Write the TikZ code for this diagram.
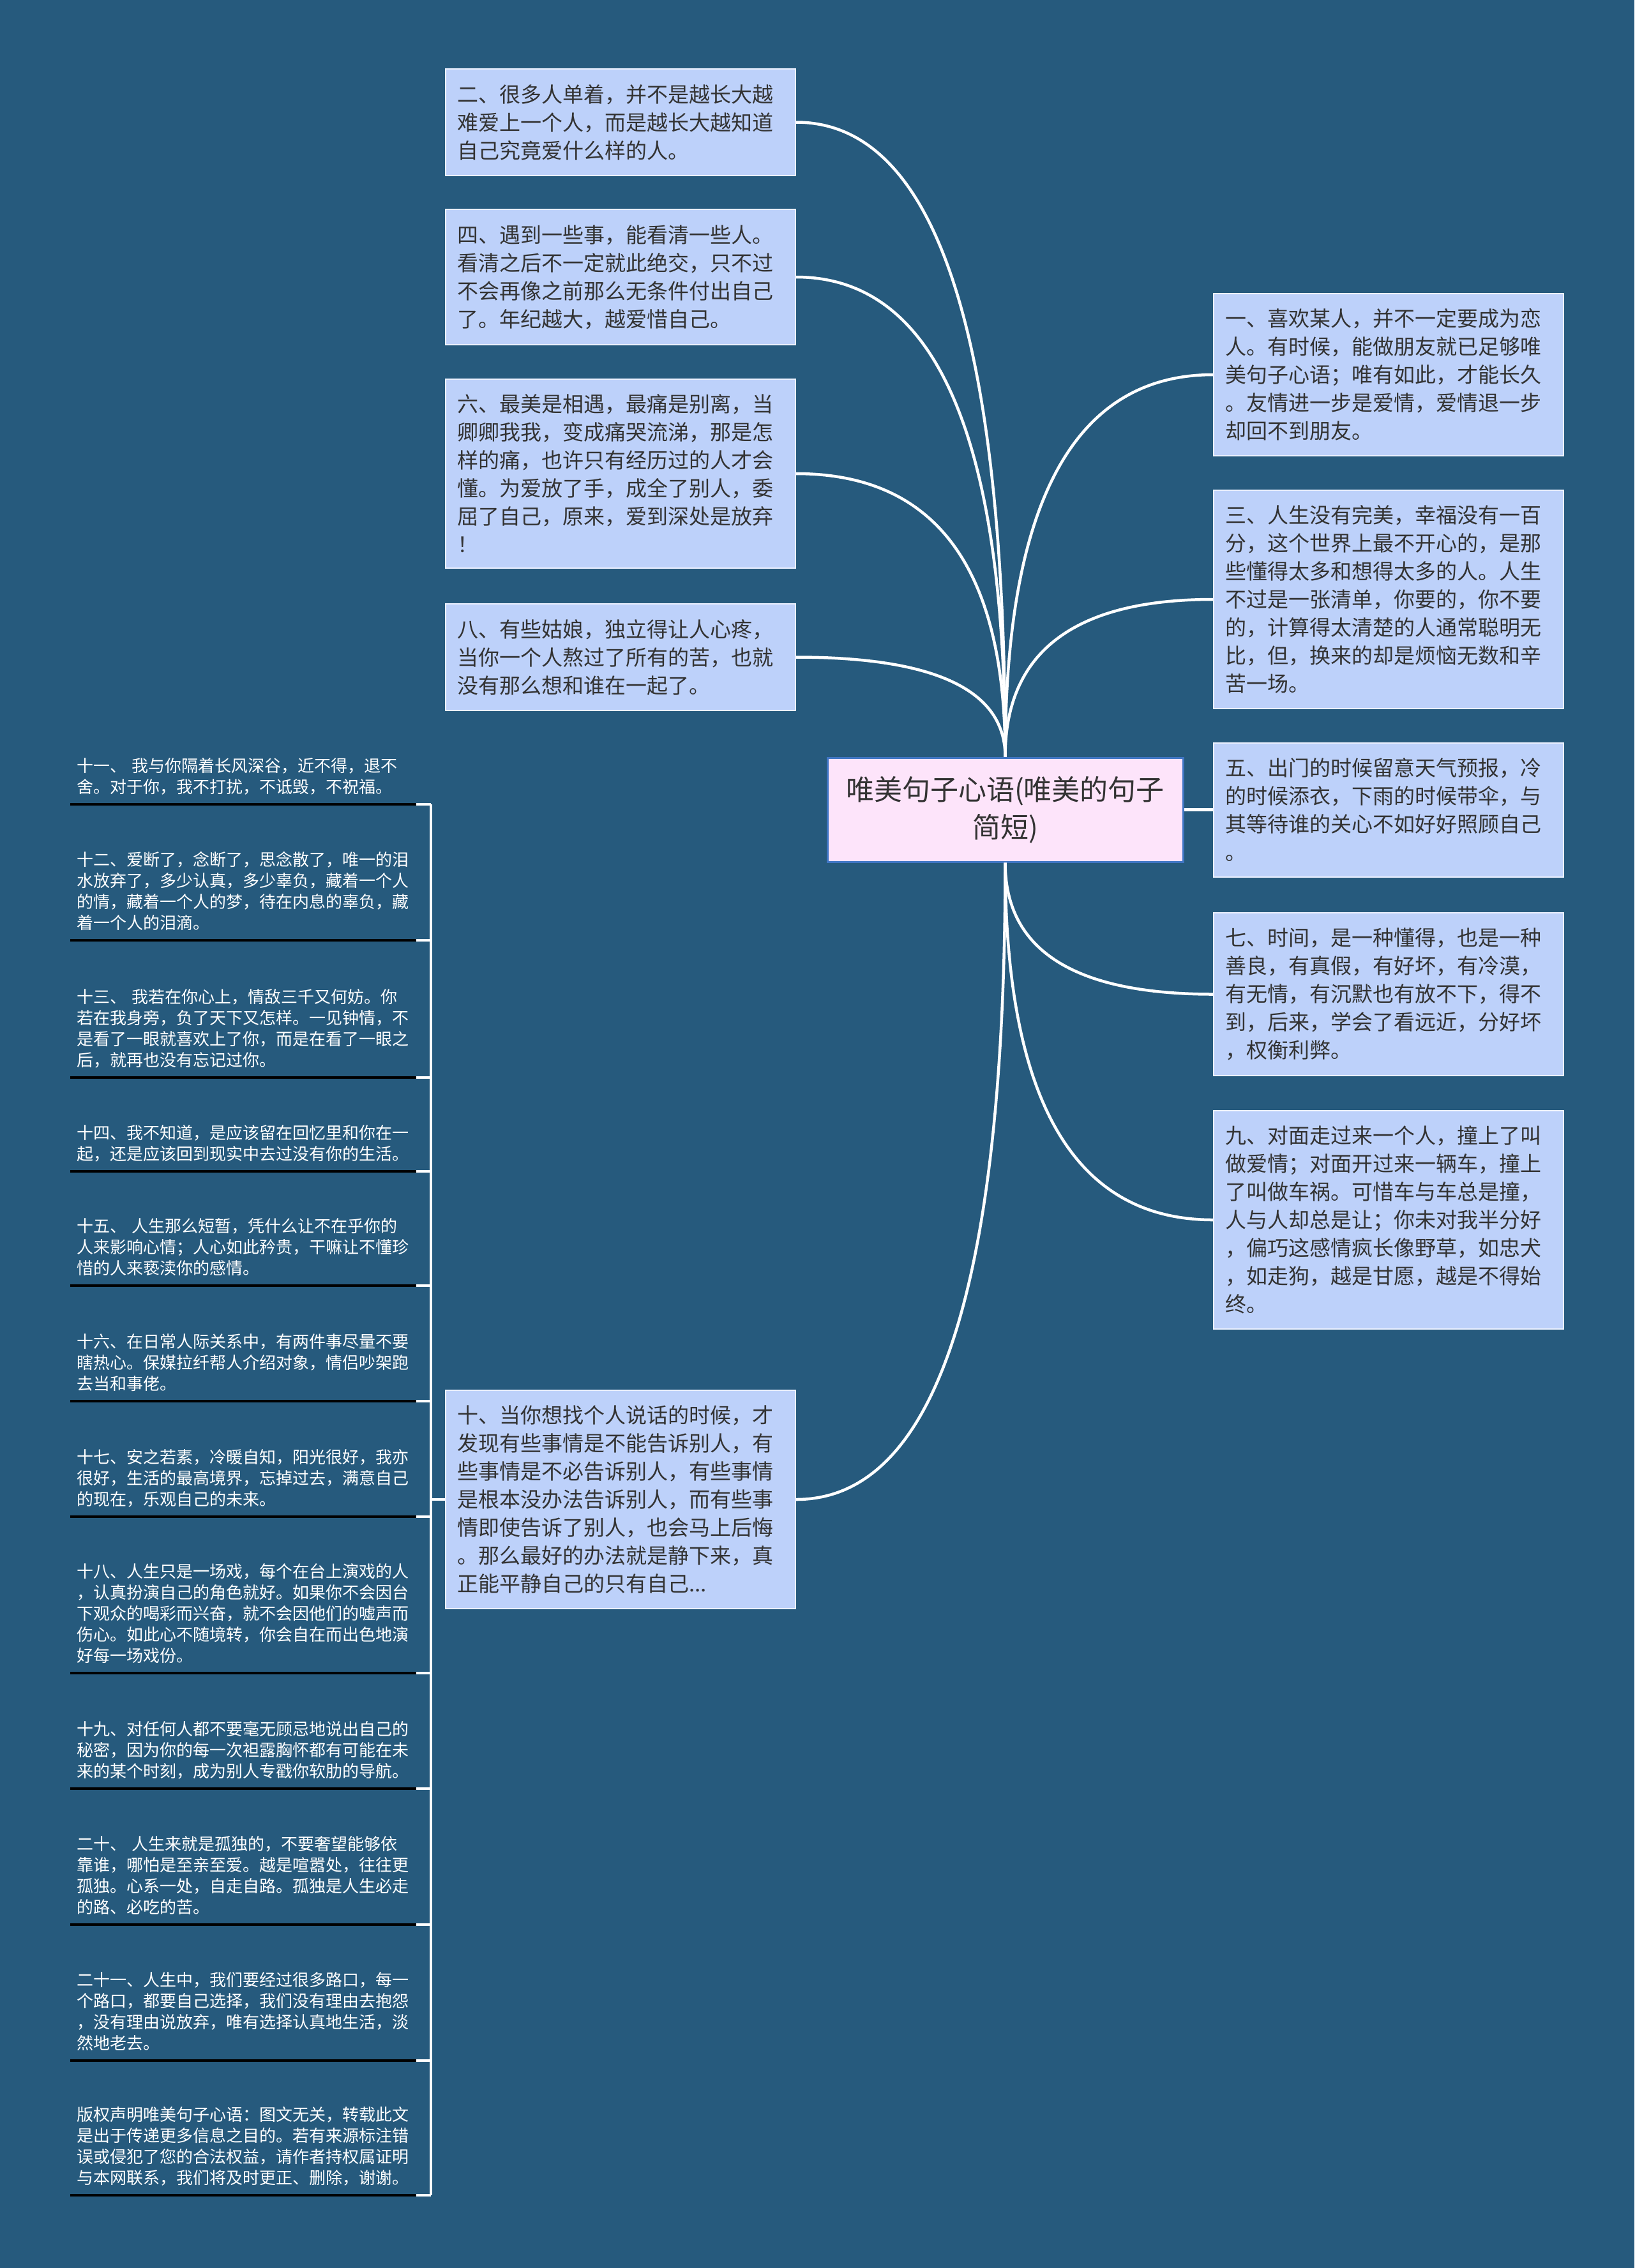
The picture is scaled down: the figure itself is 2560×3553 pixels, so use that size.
\documentclass[tikz,border=0pt]{standalone}
\usepackage{fontspec}
\newfontfamily\cjk{Noto Sans CJK SC}
\usetikzlibrary{calc}
\definecolor{bgblue}{RGB}{38,90,125}
\definecolor{boxfill}{RGB}{189,209,250}
\definecolor{boxline}{RGB}{236,241,255}
\definecolor{rootfill}{RGB}{253,228,250}
\definecolor{rootline}{RGB}{64,118,196}
\definecolor{txt}{RGB}{51,51,51}

\begin{document}
\begin{tikzpicture}[x=1pt,y=-1pt,
    box/.style={draw=boxline,line width=2pt,fill=boxfill,text=txt,
        font=\cjk\fontsize{33}{44}\selectfont,text width=512pt,align=left,
        inner xsep=18pt,inner ysep=24pt},
    root/.style={draw=rootline,line width=3pt,fill=rootfill,text=txt,
        font=\cjk\fontsize{44}{59}\selectfont,align=center,
        minimum width=557pt,minimum height=163pt},
    item/.style={anchor=south west,text=white,
        font=\cjk\fontsize{26}{33}\selectfont,text width=522pt,align=left,
        inner xsep=10pt,inner ysep=15pt},
    link/.style={white,line width=4.5pt},
    uline/.style={black,line width=4.5pt}]
\fill[bgblue] (0,0) rectangle (2560,3553);

% centre
\node[root] (root) at (1574.5,1268.5) {唯美句子心语(唯美的句子\\简短)};

% left column
\node[box] (n2) at (972,191.5) {二、很多人单着，并不是越长大越\\难爱上一个人，而是越长大越知道\\自己究竟爱什么样的人。};
\node[box] (n4) at (972,434) {四、遇到一些事，能看清一些人。\\看清之后不一定就此绝交，只不过\\不会再像之前那么无条件付出自己\\了。年纪越大，越爱惜自己。};
\node[box] (n6) at (972,742) {六、最美是相遇，最痛是别离，当\\卿卿我我，变成痛哭流涕，那是怎\\样的痛，也许只有经历过的人才会\\懂。为爱放了手，成全了别人，委\\屈了自己，原来，爱到深处是放弃\\！};
\node[box] (n8) at (972,1029.5) {八、有些姑娘，独立得让人心疼，\\当你一个人熬过了所有的苦，也就\\没有那么想和谁在一起了。};
\node[box] (n10) at (972,2349) {十、当你想找个人说话的时候，才\\发现有些事情是不能告诉别人，有\\些事情是不必告诉别人，有些事情\\是根本没办法告诉别人，而有些事\\情即使告诉了别人，也会马上后悔\\。那么最好的办法就是静下来，真\\正能平静自己的只有自己...};

% right column
\node[box] (n1) at (2175,587) {一、喜欢某人，并不一定要成为恋\\人。有时候，能做朋友就已足够唯\\美句子心语；唯有如此，才能长久\\。友情进一步是爱情，爱情退一步\\却回不到朋友。};
\node[box] (n3) at (2175,939) {三、人生没有完美，幸福没有一百\\分，这个世界上最不开心的，是那\\些懂得太多和想得太多的人。人生\\不过是一张清单，你要的，你不要\\的，计算得太清楚的人通常聪明无\\比，但，换来的却是烦恼无数和辛\\苦一场。};
\node[box] (n5) at (2175,1268.5) {五、出门的时候留意天气预报，冷\\的时候添衣，下雨的时候带伞，与\\其等待谁的关心不如好好照顾自己\\。};
\node[box] (n7) at (2175,1557.5) {七、时间，是一种懂得，也是一种\\善良，有真假，有好坏，有冷漠，\\有无情，有沉默也有放不下，得不\\到，后来，学会了看远近，分好坏\\，权衡利弊。};
\node[box] (n9) at (2175,1911) {九、对面走过来一个人，撞上了叫\\做爱情；对面开过来一辆车，撞上\\了叫做车祸。可惜车与车总是撞，\\人与人却总是让；你未对我半分好\\，偏巧这感情疯长像野草，如忠犬\\，如走狗，越是甘愿，越是不得始\\终。};

% list under item ten
\node[item] (m11) at (110,1260) {十一、 我与你隔着长风深谷，近不得，退不\\舍。对于你，我不打扰，不诋毁，不祝福。};
\node[item] (m12) at (110,1473) {十二、爱断了，念断了，思念散了，唯一的泪\\水放弃了，多少认真，多少辜负，藏着一个人\\的情，藏着一个人的梦，待在内息的辜负，藏\\着一个人的泪滴。};
\node[item] (m13) at (110,1688) {十三、 我若在你心上，情敌三千又何妨。你\\若在我身旁，负了天下又怎样。一见钟情，不\\是看了一眼就喜欢上了你，而是在看了一眼之\\后，就再也没有忘记过你。};
\node[item] (m14) at (110,1835) {十四、我不知道，是应该留在回忆里和你在一\\起，还是应该回到现实中去过没有你的生活。};
\node[item] (m15) at (110,2014) {十五、 人生那么短暂，凭什么让不在乎你的\\人来影响心情；人心如此矜贵，干嘛让不懂珍\\惜的人来亵渎你的感情。};
\node[item] (m16) at (110,2195) {十六、在日常人际关系中，有两件事尽量不要\\瞎热心。保媒拉纤帮人介绍对象，情侣吵架跑\\去当和事佬。};
\node[item] (m17) at (110,2376) {十七、安之若素，冷暖自知，阳光很好，我亦\\很好，生活的最高境界，忘掉过去，满意自己\\的现在，乐观自己的未来。};
\node[item] (m18) at (110,2621) {十八、人生只是一场戏，每个在台上演戏的人\\，认真扮演自己的角色就好。如果你不会因台\\下观众的喝彩而兴奋，就不会因他们的嘘声而\\伤心。如此心不随境转，你会自在而出色地演\\好每一场戏份。};
\node[item] (m19) at (110,2802) {十九、对任何人都不要毫无顾忌地说出自己的\\秘密，因为你的每一次袒露胸怀都有可能在未\\来的某个时刻，成为别人专戳你软肋的导航。};
\node[item] (m20) at (110,3015) {二十、 人生来就是孤独的，不要奢望能够依\\靠谁，哪怕是至亲至爱。越是喧嚣处，往往更\\孤独。心系一处，自走自路。孤独是人生必走\\的路、必吃的苦。};
\node[item] (m21) at (110,3228) {二十一、人生中，我们要经过很多路口，每一\\个路口，都要自己选择，我们没有理由去抱怨\\，没有理由说放弃，唯有选择认真地生活，淡\\然地老去。};
\node[item] (mcr) at (110,3439) {版权声明唯美句子心语：图文无关，转载此文\\是出于传递更多信息之目的。若有来源标注错\\误或侵犯了您的合法权益，请作者持权属证明\\与本网联系，我们将及时更正、删除，谢谢。};

\coordinate (brk) at (675,0);

% connectors
\foreach \b/\s in {n2/east,n4/east,n6/east,n8/east,n1/west,n3/west}
    \draw[link] (root.north) .. controls ($(root.north)!.667!(root.north |- \b.\s)$)
        and ($(\b.\s)!.667!(root.north |- \b.\s)$) .. (\b.\s);
\foreach \b/\s in {n10/east,n7/west,n9/west}
    \draw[link] (root.south) .. controls ($(root.south)!.667!(root.south |- \b.\s)$)
        and ($(\b.\s)!.667!(root.south |- \b.\s)$) .. (\b.\s);
\draw[link] (root.east) -- (n5.west);

\draw[link] (n10.west) -- (n10.west -| brk);
\draw[link] (m11.south east -| brk) -- (mcr.south east -| brk);
\foreach \m in {m11,m12,m13,m14,m15,m16,m17,m18,m19,m20,m21,mcr}{
    \draw[uline] (\m.south west) -- (\m.south east);
    \draw[link] (\m.south east) -- (\m.south east -| brk);
}
\end{tikzpicture}
\end{document}
